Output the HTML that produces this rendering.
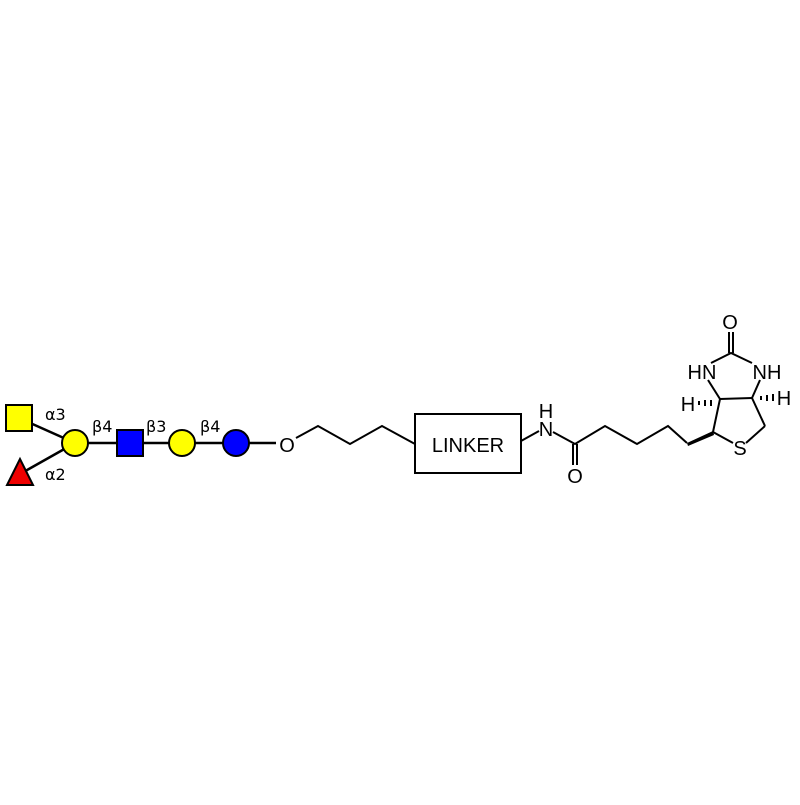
<!DOCTYPE html>
<html><head><style>body{margin:0;background:#fff}</style></head><body>
<svg width="800" height="800" xmlns="http://www.w3.org/2000/svg" font-family="Liberation Sans, sans-serif">
<rect width="800" height="800" fill="#fff"/>
<g stroke="#000" stroke-width="2.5">
<line x1="19" y1="418" x2="75" y2="443"/>
<line x1="20" y1="474" x2="75" y2="443"/>
<line x1="75" y1="443" x2="236" y2="443"/>
<line x1="236" y1="443" x2="276" y2="443"/>
</g>
<rect x="6" y="405" width="26" height="26" fill="#ff0" stroke="#000" stroke-width="2"/>
<polygon points="20,459 7,485 33,485" fill="#e00" stroke="#000" stroke-width="2"/>
<circle cx="75" cy="443" r="13" fill="#ff0" stroke="#000" stroke-width="2"/>
<rect x="117" y="430" width="26" height="26" fill="#00f" stroke="#000" stroke-width="2"/>
<circle cx="182" cy="443" r="13" fill="#ff0" stroke="#000" stroke-width="2"/>
<circle cx="236" cy="443" r="13" fill="#00f" stroke="#000" stroke-width="2"/>
<g font-size="16" fill="#000" font-family="DejaVu Sans, sans-serif">
<text x="45" y="420">α3</text>
<text x="45" y="480">α2</text>
<text x="92" y="432">β4</text>
<text x="146" y="432">β3</text>
<text x="200" y="432">β4</text>
</g>
<g stroke="#000" stroke-width="2" fill="none">
<polyline points="296,438 318,426 350,444 382,426 415,444"/>
<rect x="415" y="414" width="106" height="59"/>
<line x1="521" y1="441" x2="539" y2="431"/>
<polyline points="553,432 575,444 605,426 637,444 668,426 687,443"/>
<line x1="573" y1="444" x2="573" y2="465"/>
<line x1="577" y1="444" x2="577" y2="465"/>
<line x1="729" y1="332" x2="729" y2="353"/>
<line x1="733" y1="332" x2="733" y2="353"/>
<polyline points="711,363 731,353 752,363"/>
<line x1="708" y1="380" x2="720" y2="399"/>
<line x1="760" y1="380" x2="752" y2="398"/>
<line x1="720" y1="399" x2="752" y2="398"/>
<line x1="720" y1="399" x2="713" y2="432"/>
<line x1="752" y1="398" x2="765" y2="426"/>
<line x1="713" y1="432" x2="733" y2="443"/>
<line x1="746" y1="443" x2="765" y2="426"/>
</g>
<polygon points="687,443 713,431 714,435 688,446" fill="#000"/>
<g stroke="#000" stroke-width="2">
<line x1="699" y1="401" x2="699" y2="405"/><line x1="705" y1="400" x2="705" y2="406"/><line x1="711" y1="400" x2="711" y2="406"/>
<line x1="761" y1="396" x2="761" y2="400"/><line x1="767" y1="395" x2="767" y2="401"/><line x1="773" y1="394" x2="773" y2="401"/>
</g>
<g font-size="20" fill="#000" text-anchor="middle">
<text x="287" y="452">O</text>
<text x="468" y="452">LINKER</text>
<text x="546" y="436">N</text>
<text x="546" y="418">H</text>
<text x="575" y="483">O</text>
<text x="730" y="329">O</text>
<text x="702" y="379">HN</text>
<text x="767" y="379">NH</text>
<text x="688" y="411">H</text>
<text x="784" y="405">H</text>
<text x="740" y="455">S</text>
</g>
</svg>
</body></html>
